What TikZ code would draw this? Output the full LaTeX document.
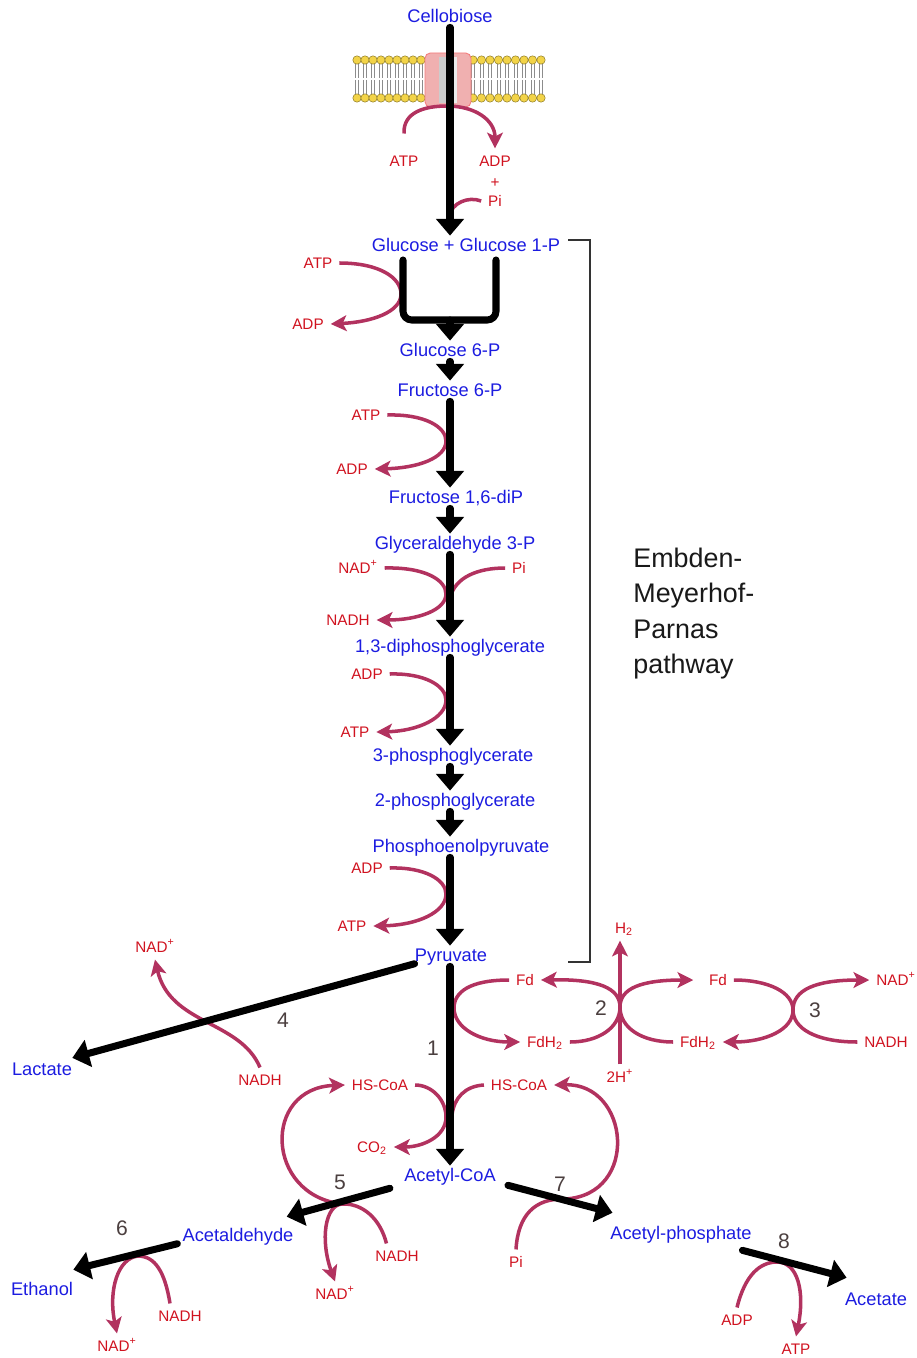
\documentclass[tikz,border=0pt]{standalone}
\usepackage{fontspec}
\setmainfont{Liberation Sans}
\usepackage{xcolor}
\usetikzlibrary{arrows.meta}
\definecolor{metblue}{HTML}{1C1CE0}
\definecolor{cofred}{HTML}{D0121F}
\definecolor{curvecol}{HTML}{B2325F}
\definecolor{numgray}{HTML}{4B3F3F}
\definecolor{headyel}{HTML}{F2D348}
\definecolor{chanpink}{HTML}{F0B0B0}

\begin{document}
\begin{tikzpicture}[x=0.02cm, y=-0.02cm,
  metab/.style={text=metblue, font=\fontsize{10.4}{12}\selectfont, inner sep=0pt, text height=7.6pt, text depth=0.8pt},
  cofac/.style={text=cofred, font=\fontsize{8.7}{10}\selectfont, inner sep=0pt, outer sep=4pt, text height=6.3pt, text depth=0pt},
  enz/.style={text=numgray, font=\fontsize{12}{14}\selectfont},
  main/.style={line width=4pt, line cap=round, -{Triangle[length=9.5pt, width=15.5pt]}},
  side/.style={draw=curvecol, line width=2pt, -{Stealth[length=9pt, width=9pt, inset=2.2pt]}},
  sidein/.style={draw=curvecol, line width=2pt},
  brack/.style={draw=black!80, line width=0.9pt},
  head/.style={fill=headyel, draw=headyel!60!black, line width=0.3pt},
  tail/.style={draw=black!45, line width=0.35pt},
]
\useasboundingbox (0,0) rectangle (916,1358);

% metabolites
\node[metab] (cello) at (450,17) {Cellobiose};
\node[metab] (glc) at (466,246) {Glucose + Glucose 1-P};
\node[metab] (g6p) at (450,351) {Glucose 6-P};
\node[metab] (f6p) at (450,391) {Fructose 6-P};
\node[metab] (fbp) at (456,498) {Fructose 1,6-diP};
\node[metab] (gap) at (455,544) {Glyceraldehyde 3-P};
\node[metab] (bpg) at (450,647) {1,3-diphosphoglycerate};
\node[metab] (pg3) at (453,756) {3-phosphoglycerate};
\node[metab] (pg2) at (455,801) {2-phosphoglycerate};
\node[metab] (pep) at (461,847) {Phosphoenolpyruvate};
\node[metab] (pyr) at (451,956) {Pyruvate};
\node[metab] (lac) at (42,1070) {Lactate};
\node[metab] (acoa) at (450,1176) {Acetyl-CoA};
\node[metab] (acald) at (238,1236) {Acetaldehyde};
\node[metab] (etoh) at (42,1290) {Ethanol};
\node[metab] (acp) at (681,1234) {Acetyl-phosphate};
\node[metab] (ace) at (876,1300) {Acetate};
\coordinate (axis) at (450,0);

% cofactors
\node[cofac] (atpA) at (404,161) {ATP};
\node[cofac] (adpA) at (495,161) {ADP};
\node[cofac] (plusA) at (495,182) {+};
\node[cofac] (piA) at (495,201) {Pi};
\node[cofac] (atpB) at (318,263) {ATP};
\node[cofac] (adpB) at (308,324) {ADP};
\node[cofac] (atpC) at (366,415) {ATP};
\node[cofac] (adpC) at (352,469) {ADP};
\node[cofac] (nadD) at (358,568) {NAD\textsuperscript{+}};
\node[cofac] (piD) at (519,568) {Pi};
\node[cofac] (nadhD) at (348,620) {NADH};
\node[cofac] (adpE) at (367,674) {ADP};
\node[cofac] (atpE) at (355,732) {ATP};
\node[cofac] (adpF) at (367,868) {ADP};
\node[cofac] (atpF) at (352,926) {ATP};
\node[cofac] (nadG) at (155,947) {NAD\textsuperscript{+}};
\node[cofac] (nadhG) at (260,1080) {NADH};
\node[cofac] (fdA) at (525,980) {Fd};
\node[cofac] (fdh2A) at (545,1042) {FdH\textsubscript{2}};
\node[cofac] (h2) at (624,928) {H\textsubscript{2}};
\node[cofac] (twoH) at (620,1077) {2H\textsuperscript{+}};
\node[cofac] (fdB) at (718,980) {Fd};
\node[cofac] (fdh2B) at (698,1042) {FdH\textsubscript{2}};
\node[cofac] (nadH) at (896,980) {NAD\textsuperscript{+}};
\node[cofac] (nadhH) at (886,1042) {NADH};
\node[cofac] (hscoaA) at (380,1085) {HS-CoA};
\node[cofac] (hscoaB) at (519,1085) {HS-CoA};
\node[cofac] (co2) at (372,1147) {CO\textsubscript{2}};
\node[cofac] (nadhI) at (397,1256) {NADH};
\node[cofac] (nadI) at (335,1294) {NAD\textsuperscript{+}};
\node[cofac] (nadhJ) at (180,1316) {NADH};
\node[cofac] (nadJ) at (117,1346) {NAD\textsuperscript{+}};
\node[cofac] (piK) at (516,1262) {Pi};
\node[cofac] (adpL) at (737,1320) {ADP};
\node[cofac] (atpL) at (796,1349) {ATP};

% enzyme numbers
\node[enz] (r1) at (433,1048) {1};
\node[enz] (r2) at (601,1008) {2};
\node[enz] (r3) at (815,1010) {3};
\node[enz] (r4) at (283,1020) {4};
\node[enz] (r5) at (340,1182) {5};
\node[enz] (r6) at (122,1228) {6};
\node[enz] (r7) at (560,1184) {7};
\node[enz] (r8) at (784,1241) {8};

\node[anchor=north west, align=left, inner sep=0pt, text=black!90, font=\fontsize{15.3}{20}\selectfont] (emp) at (633,548) {Embden-\\Meyerhof-\\Parnas\\pathway};

% membrane with transporter
\foreach \x in {357,365,...,421} {
  \draw[tail] (\x-1.6,64) -- (\x-1.6,78) (\x+1.6,64) -- (\x+1.6,78)
              (\x-1.6,80) -- (\x-1.6,94) (\x+1.6,80) -- (\x+1.6,94);
  \filldraw[head] (\x,60) circle (4.2) (\x,98) circle (4.2);
}
\foreach \x in {473,481.5,...,541} {
  \draw[tail] (\x-1.6,64) -- (\x-1.6,78) (\x+1.6,64) -- (\x+1.6,78)
              (\x-1.6,80) -- (\x-1.6,94) (\x+1.6,80) -- (\x+1.6,94);
  \filldraw[head] (\x,60) circle (4.2) (\x,98) circle (4.2);
}
\fill[chanpink, rounded corners=3pt] (425,53) rectangle (471,107);
\fill[black!20] (439,57) rectangle (457,103);
\fill[black!8] (451,57) rectangle (457,103);
\draw[chanpink!70!red, line width=0.5pt, rounded corners=3pt] (425,53) rectangle (471,107);

% side reactions
\draw[side] ([yshift=8.5pt]atpA.north) .. controls (403,112) and (425,106) .. (447,106) .. controls (475,106) and (495,120) .. (adpA.north);
\draw[sidein] (piA.west) .. controls (468,196) and (452,203) .. (449,216);
\draw[side] (atpB.east) .. controls (380,263) and (401,278) .. (401,294) .. controls (401,312) and (372,322) .. (adpB.east);
\draw[side] (atpC.east) .. controls (425,414) and (446,427) .. (446,441) .. controls (446,458) and (418,468) .. (adpC.east);
\draw[side] (nadD.east) .. controls (425,567) and (446,580) .. (446,594) .. controls (446,610) and (418,620) .. (nadhD.east);
\draw[sidein] (piD.west) .. controls (478,568) and (455,577) .. (450,598);
\draw[side] (adpE.east) .. controls (425,673) and (446,686) .. (446,700) .. controls (446,718) and (418,731) .. (atpE.east);
\draw[side] (adpF.east) .. controls (425,867) and (446,880) .. (446,894) .. controls (446,912) and (418,925) .. (atpF.east);

\draw[side] (nadhG.north) .. controls (240,1020) and (170,1025) .. (nadG.south);
\draw[side] (fdA.west) .. controls (470,980) and (454,992) .. (454,1008) .. controls (454,1028) and (480,1042) .. (fdh2A.west);
\draw[side] (hscoaA.east) .. controls (432,1085) and (446,1100) .. (446,1117) .. controls (446,1137) and (422,1147) .. (co2.east);
\draw[sidein] (hscoaB.west) .. controls (465,1086) and (454,1098) .. (452,1115);

\coordinate (c2) at (620,1007);
\draw[side] (twoH.north -| c2) -- (h2.south -| c2);
\draw[side] (fdh2A.east) .. controls (598,1042) and (620,1028) .. (c2) .. controls (620,988) and (598,979) .. (fdA.east);
\draw[side, shorten >=5pt] (fdh2B.west) .. controls (642,1042) and (620,1028) .. (c2) .. controls (620,988) and (642,980) .. (fdB.west);

\coordinate (c3) at (793,1010);
\draw[side] (fdB.east) .. controls (768,980) and (793,992) .. (c3) .. controls (793,1030) and (765,1042) .. (fdh2B.east);
\draw[side] (nadhH.west) .. controls (815,1042) and (793,1028) .. (c3) .. controls (793,990) and (815,980) .. (nadH.west);

\coordinate (c5) at (342,1204);
\draw[side] ([xshift=-6pt]nadhI.north) .. controls (380,1218) and (362,1203) .. (c5) .. controls (325,1205) and (320,1240) .. (nadI.north);
\draw[side] (c5) .. controls (265,1195) and (262,1088) .. (hscoaA.west);

\draw[side] ([xshift=-5.7pt]nadhJ.north) .. controls (165,1272) and (155,1256) .. (138,1256) .. controls (118,1258) and (108,1290) .. (nadJ.north);
\draw[side] (piK.north) .. controls (518,1215) and (535,1198) .. (565,1199) .. controls (640,1195) and (630,1083) .. (hscoaB.east);
\draw[side] (adpL.north) .. controls (745,1275) and (760,1262) .. (777,1262) .. controls (798,1262) and (805,1292) .. (atpL.north);

% glycolysis trunk
\foreach \a/\b in {cello/glc, g6p/f6p, f6p/fbp, fbp/gap, gap/bpg, bpg/pg3, pg3/pg2, pg2/pep, pep/pyr, pyr/acoa}
  \draw[main, shorten <=1.5pt, shorten >=1.5pt] (\a.south -| axis) -- (\b.north -| axis);

\draw[main, -, rounded corners=5pt] (403,260) -- (403,320) -- (496,320) -- (496,260);
\coordinate (junc) at (450,320);
\draw[main, shorten >=1.5pt] (junc) -- (g6p.north -| axis);

% fermentation branches
\draw[main] (pyr.south west) -- ([yshift=2.5pt]lac.north east);
\draw[main] ([xshift=-8pt,yshift=-2.6pt]acoa.south west) -- ([xshift=-4pt,yshift=6.6pt]acald.north east);
\draw[main] ([xshift=-2.8pt]acald.south west) -- ([yshift=7.2pt]etoh.north east);
\draw[main] ([xshift=6.8pt,yshift=-0.9pt]acoa.south east) -- ([xshift=1.4pt,yshift=7.7pt]acp.north west);
\draw[main] ([xshift=-5.4pt,yshift=-4.9pt]acp.south east) -- ([xshift=1.1pt,yshift=8.3pt]ace.north west);

\draw[brack] (568,240) -- (590,240) -- (590,962) -- (568,962);

\end{tikzpicture}
\end{document}
